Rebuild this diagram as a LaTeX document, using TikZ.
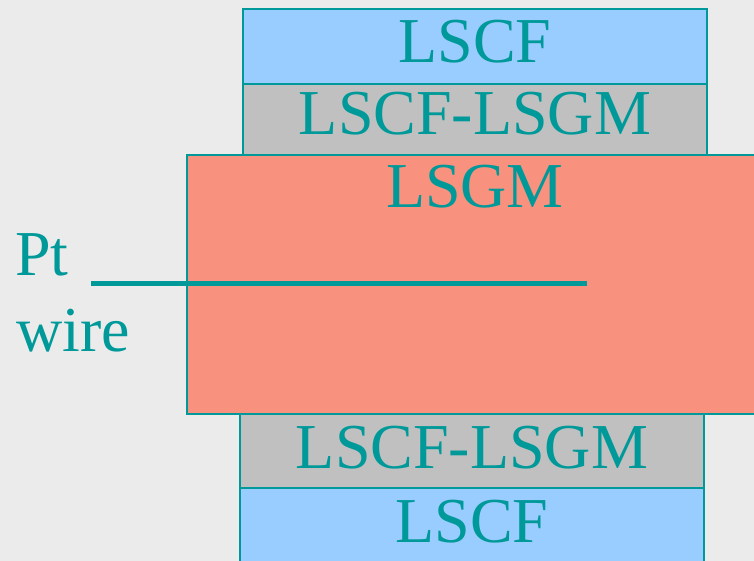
\documentclass[tikz,border=0pt]{standalone}
\usepackage{fontspec}
\setmainfont{Liberation Serif}
\definecolor{bgGray}{HTML}{EBEBEB}
\definecolor{layerBlue}{HTML}{99CCFF}
\definecolor{layerGray}{HTML}{C0C0C0}
\definecolor{layerSalmon}{HTML}{F8917E}
\definecolor{tealInk}{HTML}{009999}
\tikzset{
  layer/.style={draw=tealInk, line width=1.4pt},
  lbl/.style={text=tealInk, inner sep=0pt, anchor=base, font=\rmfamily\fontsize{64}{70}\selectfont},
}
\begin{document}
\begin{tikzpicture}[x=1pt, y=-1pt]
                \useasboundingbox (0, 0) rectangle (754, 561);
                \clip (0, 0) rectangle (754, 561);
                \fill[bgGray] (0, 0) rectangle (754, 561);

                \draw[layer, fill=layerBlue] (243, 9) rectangle (707, 84);

                \draw[layer, fill=layerGray] (243, 84) rectangle (707, 155);

                \draw[layer, fill=layerBlue] (240, 488) rectangle (704, 575);

                \draw[layer, fill=layerGray] (240, 414) rectangle (704, 488);

                \draw[layer, fill=layerSalmon] (187, 155) rectangle (770, 414);

                \node[lbl] (lscfTop) at (475, 62.5) {LSCF};

                \node[lbl] (mixTop) at (475, 135) {LSCF-LSGM};

                \node[lbl] (lsgm) at (475, 208) {LSGM};

                \node[lbl] (mixBottom) at (472, 468) {LSCF-LSGM};

                \node[lbl] (lscfBottom) at (472, 542.5) {LSCF};

                \node[lbl, anchor=base west] (ptLabel) at (15, 275) {Pt};

                \node[lbl, anchor=base west] (wireLabel) at (16, 351) {wire};

                \coordinate (wireStart) at (91, 283.5);
                \coordinate (wireEnd) at (587, 283.5);
                \draw[tealInk, line width=5pt] (wireStart) -- (wireEnd);
            \end{tikzpicture}
\end{document}
